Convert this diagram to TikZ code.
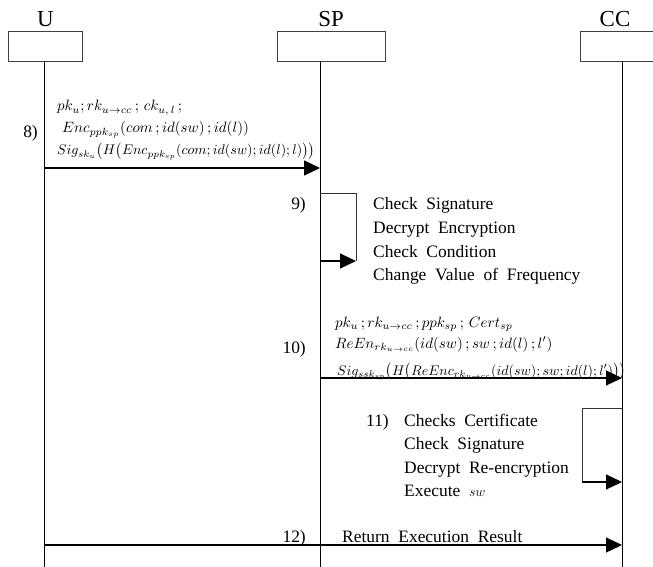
\documentclass[tikz,border=0pt]{standalone}
\usepackage{graphicx}
\usepackage{fontspec}
\setmainfont{Liberation Serif}
\usetikzlibrary{arrows.meta}
\newcommand{\mA}[1]{\scalebox{1.5}{$#1$}}
\newcommand{\mB}[1]{\scalebox{1.4}{$#1$}}
\begin{document}
\begin{tikzpicture}[x=1bp,y=-1bp,
  actor/.style={draw=black!75, line width=1bp, minimum height=30bp, inner sep=0pt},
  head/.style={font=\fontsize{23}{26}\selectfont, anchor=base, inner sep=0pt},
  life/.style={line width=0.9bp},
  msg/.style={-{Triangle[length=16bp,width=15bp]}, line width=1.2bp},
  loopline/.style={line width=1bp, draw=black!80},
  txt/.style={font=\fontsize{17.5}{20}\selectfont, anchor=base west, inner sep=0pt},
  num/.style={font=\fontsize{17.5}{20}\selectfont, anchor=base east, inner sep=0pt},
  mth/.style={font=\fontsize{10}{12}\selectfont, anchor=base west, inner sep=0pt}
]
\useasboundingbox (0,0) rectangle (653,567);

% actors
\node[actor, minimum width=73bp] (ubox) at (45.5,47) {};
\node[actor, minimum width=108bp] (spbox) at (331,47) {};
\node[actor, minimum width=120bp] (ccbox) at (640,47) {};
\node[head] (ulbl) at (45.5,27) {U};
\node[head] (splbl) at (331,27) {SP};
\node[head] (cclbl) at (615,27) {CC};

% lifelines
\coordinate (uT) at (44.5,62);  \coordinate (uB) at (44.5,567);
\coordinate (sT) at (320,62);   \coordinate (sB) at (320,567);
\coordinate (cT) at (622,62);   \coordinate (cB) at (622,567);
\draw[life] (uT) -- (uB);
\draw[life] (sT) -- (sB);
\draw[life] (cT) -- (cB);

% message 8
\node[num] (n8) at (38,138) {8)};
\node[mth] (m8a) at (57,111) {\mA{pk_u;rk_{u\to cc}\,;\,ck_{u,\,l}\,;}};
\node[mth] (m8b) at (62,133) {\mA{Enc_{ppk_{sp}}(com\,;id(sw)\,;id(l))}};
\node[mth] (m8c) at (57,155) {\mB{Sig_{sk_u}\bigl(H\bigl(Enc_{ppk_{sp}}(com;id(sw);id(l);l)\bigr)\bigr)}};
\coordinate (a8s) at (44.5,168); \coordinate (a8e) at (320,168);
\draw[msg] (a8s) -- (a8e);

% step 9
\node[num] (n9) at (306,209) {9)};
\coordinate (l9a) at (320,193); \coordinate (l9b) at (356,193);
\coordinate (l9c) at (356,261); \coordinate (l9d) at (320,261);
\draw[loopline] (l9a) -- (l9b) -- (l9c);
\draw[msg] (l9d) -- (l9c);
\node[txt] (t9a) at (373,209) {Check\ \ Signature};
\node[txt] (t9b) at (373,233) {Decrypt\ \ Encryption};
\node[txt] (t9c) at (373,257) {Check\ \ Condition};
\node[txt] (t9d) at (373,280) {Change\ \ Value\ \ of\ \ Frequency};

% message 10
\node[num] (n10) at (306,353) {10)};
\node[mth] (m10a) at (335,327) {\mA{pk_u\,;rk_{u\to cc}\,;ppk_{sp}\,;\,Cert_{sp}}};
\node[mth] (m10b) at (335,348) {\mA{ReEn_{rk_{u\to cc}}(id(sw)\,;sw\,;id(l)\,;l')}};
\node[mth] (m10c) at (337,375) {\mB{Sig_{ssk_{sp}}\bigl(H\bigl(ReEnc_{rk_{u\to cc}}(id(sw);sw;id(l);l')\bigr)\bigr)}};
\coordinate (a10s) at (320,378); \coordinate (a10e) at (622,378);
\draw[msg] (a10s) -- (a10e);

% step 11
\node[txt] (n11) at (366,426) {11)};
\node[txt] (t11a) at (404,426) {Checks\ \ Certificate};
\node[txt] (t11b) at (404,449) {Check\ \ Signature};
\node[txt] (t11c) at (404,473) {Decrypt\ \ Re-encryption};
\node[txt] (t11d) at (404,496) {Execute\ \ \scalebox{0.8}{$sw$}};
\coordinate (l11a) at (622,408); \coordinate (l11b) at (582,408);
\coordinate (l11c) at (582,482); \coordinate (l11d) at (622,482);
\draw[loopline] (l11a) -- (l11b) -- (l11c);
\draw[msg] (l11c) -- (l11d);

% message 12
\node[num] (n12) at (306,542) {12)};
\node[txt] (t12) at (342,542) {Return\ \ Execution\ \ Result};
\coordinate (a12s) at (44.5,545); \coordinate (a12e) at (622,545);
\draw[msg] (a12s) -- (a12e);
\end{tikzpicture}
\end{document}
